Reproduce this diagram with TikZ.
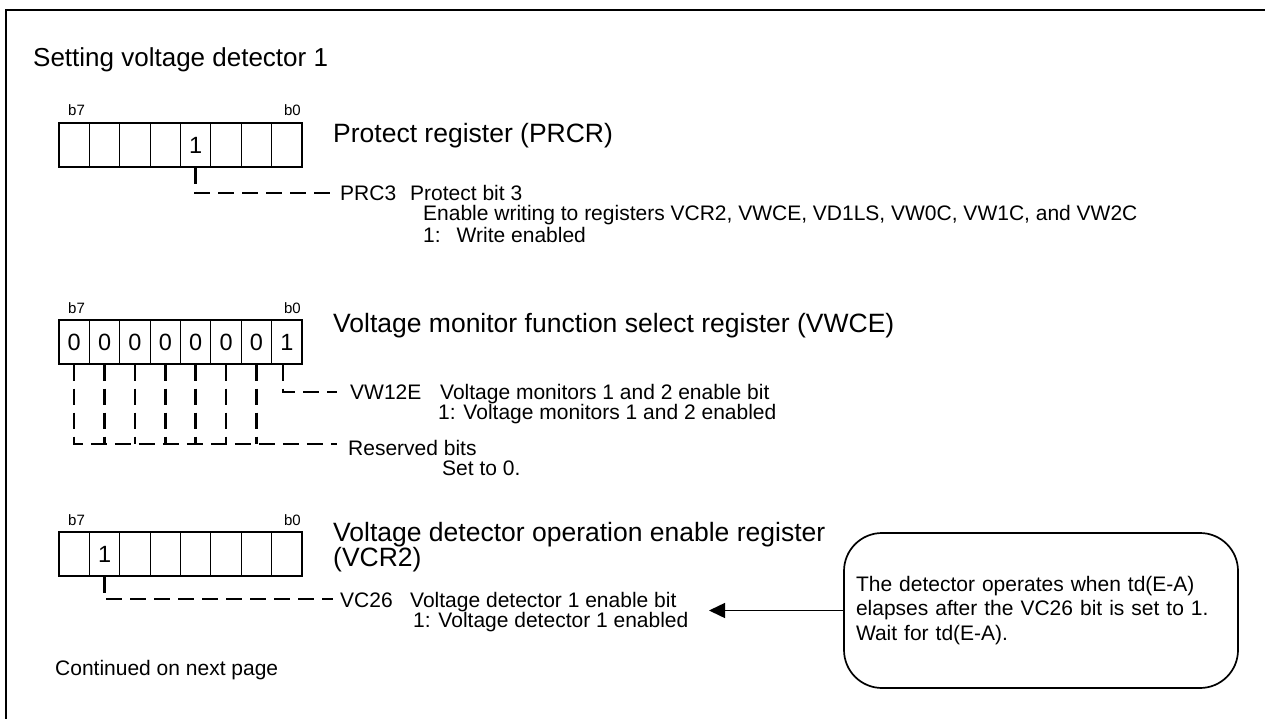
\documentclass[tikz,border=0pt]{standalone}
\usepackage{fontspec}
\setmainfont{Liberation Sans}
\usetikzlibrary{arrows.meta}
\tikzset{
  cell/.style={draw, line width=1.2pt, minimum width=30.375pt, minimum height=44pt, inner sep=0pt},
  digit/.style={font=\fontsize{23.5}{26}\selectfont, inner sep=0pt},
  bitlbl/.style={font=\fontsize{15}{17}\selectfont, inner sep=0pt},
  txt/.style={font=\fontsize{21}{24}\selectfont, inner sep=0pt, anchor=base west},
  regtitle/.style={font=\fontsize{26.5}{30}\selectfont, inner sep=0pt, anchor=base west},
  dl/.style={line width=2.6pt, dash pattern=on 16pt off 8pt},
  callout/.style={draw, line width=1.7pt, rounded corners=38pt, minimum width=394pt, minimum height=155pt,
    text width=370pt, align=left, inner xsep=12pt, font=\fontsize{21}{24.5}\selectfont},
}
\begin{document}
\begin{tikzpicture}[x=1pt,y=-1pt]
\useasboundingbox (0,0) rectangle (1265,719);
% frame
\draw[line width=2.5pt] (6,719) -- (6,10) -- (1265,10);

% title
\node[regtitle, font=\fontsize{26}{30}\selectfont] (title) at (33,67) {Setting voltage detector 1};

% ---------- register 1 (PRCR)
\foreach \i in {0,...,7} \node[cell] (r1c\i) at ({74.19+30.375*\i},145) {};
\node[bitlbl, anchor=base west] (r1b7) at (68,116) {b7};
\node[bitlbl, anchor=base east] (r1b0) at (301,116) {b0};
\node[digit] (r1d) at (r1c4) {1};
\node[regtitle] (t1) at (333,143) {Protect register (PRCR)};
\node[txt] (n1) at (340,200.5) {PRC3};
\node[txt] (n1a) at (410,200.5) {Protect bit 3};
\node[txt] (n1b) at (423,221) {Enable writing to registers VCR2, VWCE, VD1LS, VW0C, VW1C, and VW2C};
\node[txt] (n1c) at (423,243) {1:\hspace{16pt}Write enabled};
\coordinate (e1) at (336,193);
\draw[dl] (r1c4.south) |- (e1);

% ---------- register 2 (VWCE)
\foreach \i in {0,...,7} \node[cell] (r2c\i) at ({74.19+30.375*\i},342) {};
\node[bitlbl, anchor=base west] (r2b7) at (68,313) {b7};
\node[bitlbl, anchor=base east] (r2b0) at (301,313) {b0};
\foreach \i in {0,...,6} \node[digit] (r2d\i) at (r2c\i) {0};
\node[digit] (r2d7) at (r2c7) {1};
\node[regtitle] (t2) at (333,332) {Voltage monitor function select register (VWCE)};
\node[txt] (n2) at (350,399) {VW12E};
\node[txt] (n2a) at (440,399) {Voltage monitors 1 and 2 enable bit};
\node[txt] (n2b) at (438,419) {1: Voltage monitors 1 and 2 enabled};
\node[txt] (n3) at (348,455) {Reserved bits};
\node[txt] (n3a) at (442,475) {Set to 0.};
\coordinate (e2) at (337,392);
\coordinate (e3) at (337,444);
\draw[dl] ([xshift=-4pt]r2c7.south) |- (e2);
\draw[dl] (r2c0.south) |- (e3);
\foreach \i in {1,...,6} \draw[dl] (r2c\i.south) -- (r2c\i.south |- e3);

% ---------- register 3 (VCR2)
\foreach \i in {0,...,7} \node[cell] (r3c\i) at ({74.19+30.375*\i},554) {};
\node[bitlbl, anchor=base west] (r3b7) at (68,525) {b7};
\node[bitlbl, anchor=base east] (r3b0) at (301,525) {b0};
\node[digit] (r3d) at (r3c1) {1};
\node[regtitle] (t3) at (333,541) {Voltage detector operation enable register};
\node[regtitle] (t3b) at (333,566) {(VCR2)};
\node[txt] (n4) at (340,607) {VC26};
\node[txt] (n4a) at (410,607) {Voltage detector 1 enable bit};
\node[txt] (n4b) at (413,627) {1: Voltage detector 1 enabled};
\coordinate (e4) at (333,599);
\draw[dl] (r3c1.south) |- (e4);

\node[txt] (cont) at (55,675) {Continued on next page};

% callout
\node[callout] (co) at (1041,610.5) {The detector operates when td(E-A)\\elapses after the VC26 bit is set to 1.\\Wait for td(E-A).};
\coordinate (tip) at (709,610.5);
\draw[line width=1.5pt, -{Triangle[length=16pt,width=15pt]}] (co.west) -- (tip);
\end{tikzpicture}
\end{document}
